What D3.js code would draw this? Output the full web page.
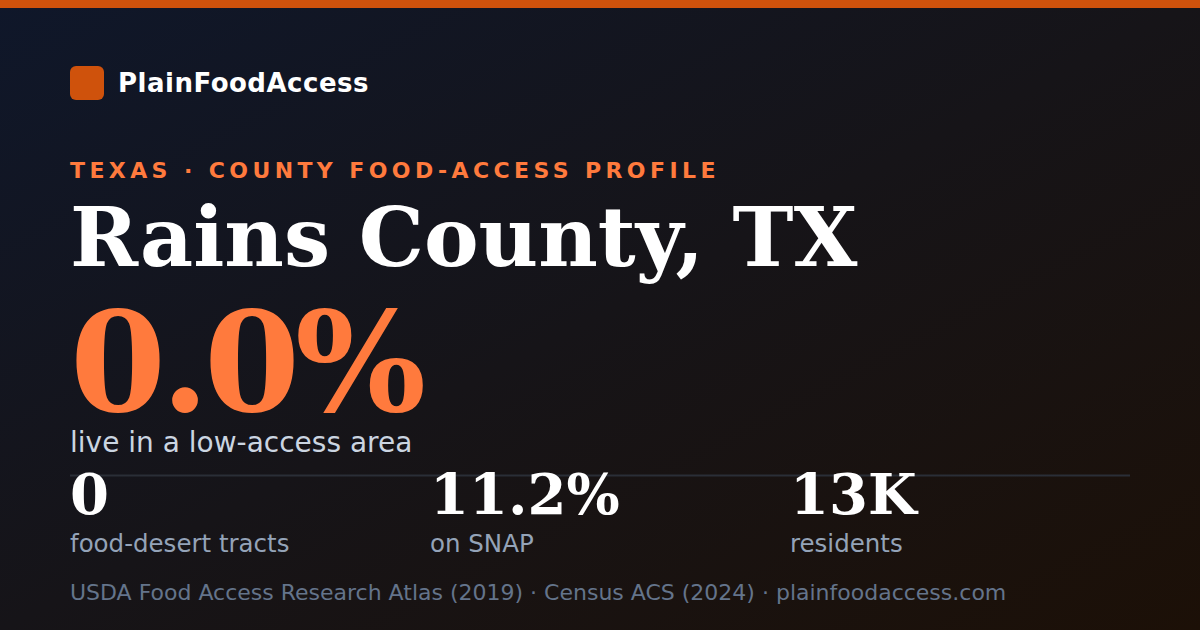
<!DOCTYPE html>
<meta charset="utf-8">
<script src="https://d3js.org/d3.v7.min.js"></script>
<style>
  html, body { margin: 0; padding: 0; background: #111; }
  svg { display: block; }
</style>
<svg width="1200" height="630"></svg>
<script>

// card text and figures
const brand = 'PlainFoodAccess';
const kicker = 'TEXAS · COUNTY FOOD-ACCESS PROFILE';
const title = 'Rains County, TX';
const headlineValue = '0.0%';
const headlineLabel = 'live in a low-access area';
const statValues = ['0', '11.2%', '13K'];
const statLabels = ['food-desert tracts', 'on SNAP', 'residents'];
const sources = 'USDA Food Access Research Atlas (2019) · Census ACS (2024) · plainfoodaccess.com';

var width = 1200, height = 630;
var sans = "'DejaVu Sans', sans-serif",
    serif = "'DejaVu Serif', serif";

var svg = d3.select('svg')
    .attr('width', width)
    .attr('height', height);

// background gradient
var defs = svg.append('defs');
var grad = defs.append('linearGradient')
    .attr('id', 'bg')
    .attr('x1', '0%').attr('y1', '0%')
    .attr('x2', '100%').attr('y2', '100%');
grad.append('stop').attr('offset', '0%').attr('stop-color', '#0f172a');
grad.append('stop').attr('offset', '50%').attr('stop-color', '#161418');
grad.append('stop').attr('offset', '100%').attr('stop-color', '#1c1007');

svg.append('rect')
    .attr('width', width)
    .attr('height', height)
    .attr('fill', 'url(#bg)');

// top accent bar
svg.append('rect')
    .attr('width', width)
    .attr('height', 8)
    .attr('fill', '#cf520c');

// brand
svg.append('rect')
    .attr('x', 70).attr('y', 66)
    .attr('width', 34).attr('height', 34)
    .attr('rx', 6)
    .attr('fill', '#cf520c');

svg.append('text')
    .attr('x', 118).attr('y', 92)
    .style('font-family', sans)
    .style('font-weight', 'bold')
    .style('font-size', '26px')
    .style('letter-spacing', '0.5px')
    .attr('fill', '#ffffff')
    .text(brand);

// kicker
svg.append('text')
    .attr('x', 70).attr('y', 178)
    .style('font-family', sans)
    .style('font-weight', 'bold')
    .style('font-size', '22px')
    .style('letter-spacing', '4.4px')
    .attr('fill', '#ff7a3d')
    .text(kicker);

// title
svg.append('text')
    .attr('x', 70).attr('y', 266)
    .style('font-family', serif)
    .style('font-weight', 'bold')
    .style('font-size', '82px')
    .attr('fill', '#ffffff')
    .text(title);

// headline figure
svg.append('text')
    .attr('x', 70).attr('y', 411)
    .style('font-family', serif)
    .style('font-weight', 'bold')
    .style('font-size', '138px')
    .style('letter-spacing', '-5px')
    .attr('fill', '#ff7a3d')
    .text(headlineValue);

svg.append('text')
    .attr('x', 70).attr('y', 452)
    .style('font-family', sans)
    .style('font-size', '28px')
    .attr('fill', '#cbd5e1')
    .text(headlineLabel);

// divider
svg.append('line')
    .attr('x1', 70).attr('x2', 1130)
    .attr('y1', 475.5).attr('y2', 475.5)
    .attr('stroke', '#2a2e37')
    .attr('stroke-width', 2);

// stat columns
var x = d3.scaleBand()
    .domain(d3.range(statValues.length))
    .range([70, 1150])
    .paddingInner(0);

var cols = svg.append('g')
  .selectAll('g')
  .data(statValues)
  .enter()
  .append('g')
    .attr('transform', function (d, i) { return 'translate(' + x(i) + ',0)'; });

cols.append('text')
    .attr('y', 514)
    .style('font-family', serif)
    .style('font-weight', 'bold')
    .style('font-size', '56px')
    .attr('fill', '#ffffff')
    .text(function (d) { return d; });

cols.append('text')
    .attr('y', 552)
    .style('font-family', sans)
    .style('font-size', '24.5px')
    .attr('fill', '#94a3b8')
    .text(function (d, i) { return statLabels[i]; });

// footer
svg.append('text')
    .attr('x', 70).attr('y', 600)
    .style('font-family', sans)
    .style('font-size', '22px')
    .attr('fill', '#64748b')
    .text(sources);

</script>
